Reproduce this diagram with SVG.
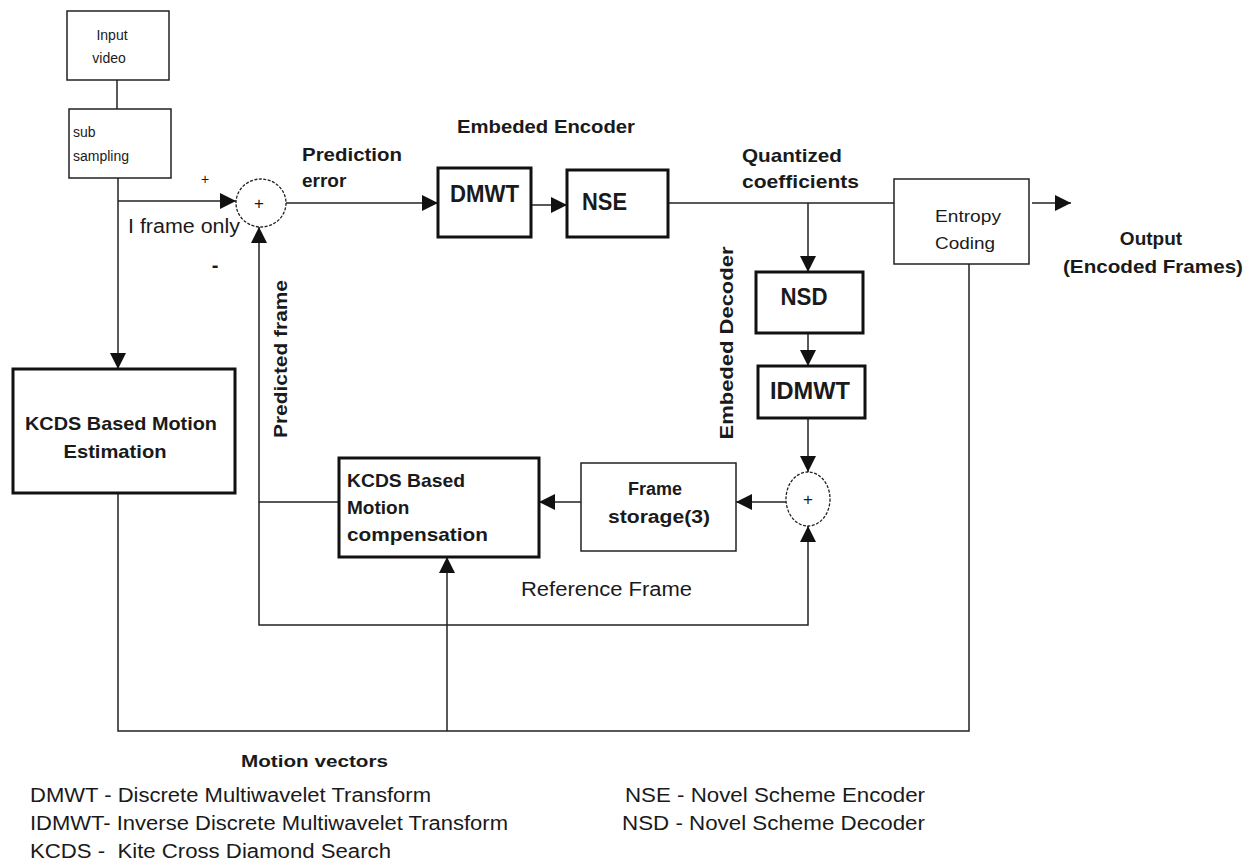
<svg xmlns="http://www.w3.org/2000/svg" width="1255" height="863" viewBox="0 0 1255 863">
<style>
text{font-family:"Liberation Sans",Arial,sans-serif;fill:#1a1a1a}
.b{font-weight:bold}
.thin{fill:#fff;stroke:#222;stroke-width:1.5}
.thick{fill:#fff;stroke:#111;stroke-width:3}
.sum{fill:#fff;stroke:#222;stroke-width:1.3;stroke-dasharray:3 1.5}
.c{fill:none;stroke:#222;stroke-width:1.5}
.a{marker-end:url(#ah)}
</style>
<defs>
<marker id="ah" markerUnits="userSpaceOnUse" markerWidth="17" markerHeight="17" refX="16" refY="8" orient="auto">
<path d="M0,0 L16,8 L0,16 z" fill="#111"/>
</marker>
</defs>
<rect width="1255" height="863" fill="#fff"/>
<g id="connectors">
<path class="c" d="M117,80 V109"/>
<path class="c a" d="M118,178 V369"/>
<path class="c a" d="M118,201 H236"/>
<path class="c a" d="M286,203 H438"/>
<path class="c a" d="M531,205 H567"/>
<path class="c" d="M668,203 H894"/>
<path class="c a" d="M808,203 V272"/>
<path class="c a" d="M1032,203 H1071"/>
<path class="c a" d="M808,333 V366"/>
<path class="c a" d="M808,418 V472"/>
<path class="c a" d="M786,502 H736"/>
<path class="c a" d="M581,502 H539"/>
<path class="c a" d="M339,502 H259 V227"/>
<path class="c a" d="M259,502 V625 H808 V526"/>
<path class="c" d="M118,493 V731 H969 V264"/>
<path class="c a" d="M447,731 V557"/>
</g>
<g id="input-video">
<rect class="thin" x="67" y="11" width="102" height="69"/>
<text x="112" y="40" font-size="14" text-anchor="middle">Input</text>
<text x="109" y="63" font-size="14" text-anchor="middle">video</text>
</g>
<g id="sub-sampling">
<rect class="thin" x="69" y="109" width="102" height="69"/>
<text x="73" y="137" font-size="14">sub</text>
<text x="73" y="161" font-size="14">sampling</text>
</g>
<g id="sum1">
<ellipse class="sum" cx="261" cy="203" rx="25" ry="24"/>
<text x="259" y="209" font-size="17" text-anchor="middle">+</text>
</g>
<g id="labels-left">
<text x="205" y="184" font-size="14" text-anchor="middle">+</text>
<text x="128" y="233" font-size="20" textLength="112" lengthAdjust="spacingAndGlyphs">I frame only</text>
<text x="215" y="272" font-size="20" class="b" text-anchor="middle">-</text>
<text class="b" font-size="19" transform="translate(287,359) rotate(-90)" text-anchor="middle" textLength="158" lengthAdjust="spacingAndGlyphs">Predicted frame</text>
</g>
<g id="me">
<rect class="thick" x="13" y="369" width="222" height="124"/>
<text class="b" x="121" y="430" font-size="19" text-anchor="middle" textLength="192" lengthAdjust="spacingAndGlyphs">KCDS Based Motion</text>
<text class="b" x="115" y="458" font-size="19" text-anchor="middle" textLength="103" lengthAdjust="spacingAndGlyphs">Estimation</text>
</g>
<g id="encoder-labels">
<text class="b" x="302" y="161" font-size="19" textLength="100" lengthAdjust="spacingAndGlyphs">Prediction</text>
<text class="b" x="302" y="187" font-size="19">error</text>
<text class="b" x="457" y="133" font-size="19" textLength="178" lengthAdjust="spacingAndGlyphs">Embeded Encoder</text>
</g>
<g id="dmwt">
<rect class="thick" x="438" y="168" width="93" height="69"/>
<text class="b" x="450" y="202" font-size="24" textLength="69" lengthAdjust="spacingAndGlyphs">DMWT</text>
</g>
<g id="nse">
<rect class="thick" x="567" y="170" width="101" height="67"/>
<text class="b" x="582" y="210" font-size="24" textLength="45" lengthAdjust="spacingAndGlyphs">NSE</text>
</g>
<g id="quant-label">
<text class="b" x="742" y="162" font-size="19" textLength="100" lengthAdjust="spacingAndGlyphs">Quantized</text>
<text class="b" x="742" y="188" font-size="19" textLength="117" lengthAdjust="spacingAndGlyphs">coefficients</text>
</g>
<g id="entropy">
<rect class="thin" x="894" y="179" width="135" height="85"/>
<text x="935" y="222" font-size="17" textLength="66" lengthAdjust="spacingAndGlyphs">Entropy</text>
<text x="935" y="249" font-size="17" textLength="60" lengthAdjust="spacingAndGlyphs">Coding</text>
</g>
<g id="output">
<text class="b" x="1151" y="245" font-size="19" text-anchor="middle">Output</text>
<text class="b" x="1153" y="273" font-size="19" text-anchor="middle" textLength="180" lengthAdjust="spacingAndGlyphs">(Encoded Frames)</text>
</g>
<g id="nsd">
<rect class="thick" x="756" y="272" width="107" height="61"/>
<text class="b" x="804" y="305" font-size="24" text-anchor="middle" textLength="47" lengthAdjust="spacingAndGlyphs">NSD</text>
</g>
<g id="idmwt">
<rect class="thick" x="758" y="366" width="107" height="52"/>
<text class="b" x="810" y="399" font-size="24" text-anchor="middle" textLength="80" lengthAdjust="spacingAndGlyphs">IDMWT</text>
</g>
<g id="decoder-label">
<text class="b" font-size="19" transform="translate(733,343) rotate(-90)" text-anchor="middle" textLength="193" lengthAdjust="spacingAndGlyphs">Embeded Decoder</text>
</g>
<g id="sum2">
<ellipse class="sum" cx="808" cy="499" rx="22" ry="27"/>
<text x="808" y="505" font-size="17" text-anchor="middle">+</text>
</g>
<g id="frame-storage">
<rect class="thin" x="581" y="463" width="155" height="88"/>
<text class="b" x="655" y="495" font-size="18" text-anchor="middle">Frame</text>
<text class="b" x="659" y="523" font-size="18" text-anchor="middle" textLength="102" lengthAdjust="spacingAndGlyphs">storage(3)</text>
</g>
<g id="mc">
<rect class="thick" x="339" y="458" width="200" height="99"/>
<text class="b" x="347" y="487" font-size="19" textLength="118" lengthAdjust="spacingAndGlyphs">KCDS Based</text>
<text class="b" x="347" y="514" font-size="19">Motion</text>
<text class="b" x="347" y="541" font-size="19" textLength="141" lengthAdjust="spacingAndGlyphs">compensation</text>
</g>
<g id="bottom-labels">
<text x="521" y="596" font-size="20" textLength="171" lengthAdjust="spacingAndGlyphs">Reference Frame</text>
<text class="b" x="241" y="767" font-size="17" textLength="147" lengthAdjust="spacingAndGlyphs">Motion vectors</text>
</g>
<g id="legend">
<text x="30" y="802" font-size="20" textLength="401" lengthAdjust="spacingAndGlyphs">DMWT - Discrete Multiwavelet Transform</text>
<text x="30" y="830" font-size="20" textLength="478" lengthAdjust="spacingAndGlyphs">IDMWT- Inverse Discrete Multiwavelet Transform</text>
<text x="30" y="858" font-size="20" textLength="361" lengthAdjust="spacingAndGlyphs" xml:space="preserve">KCDS -  Kite Cross Diamond Search</text>
<text x="625" y="802" font-size="20" textLength="300" lengthAdjust="spacingAndGlyphs">NSE - Novel Scheme Encoder</text>
<text x="622" y="830" font-size="20" textLength="303" lengthAdjust="spacingAndGlyphs">NSD - Novel Scheme Decoder</text>
</g>
</svg>
